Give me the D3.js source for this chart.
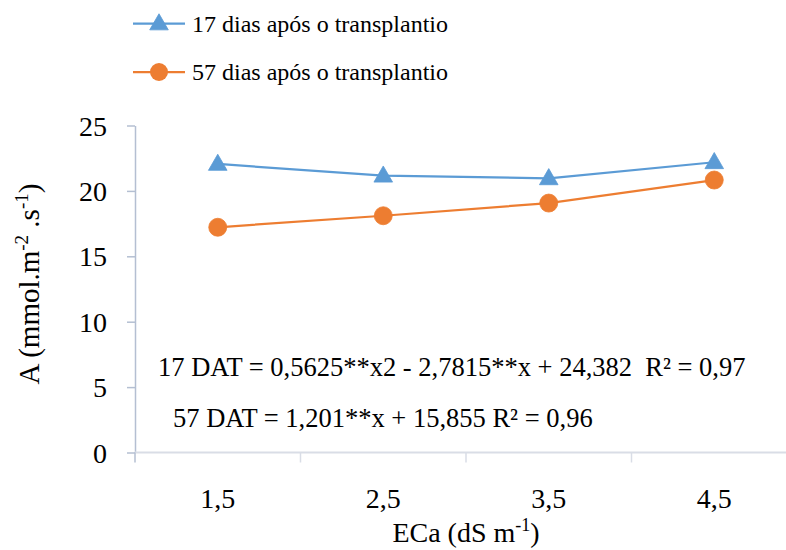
<!DOCTYPE html>
<html>
<head>
<meta charset="utf-8">
<script src="https://cdn.jsdelivr.net/npm/d3@7"></script>
<style>
  html, body { margin: 0; padding: 0; background: #fff; }
</style>
</head>
<body>
<svg id="chart" width="786" height="550"></svg>
<script>
// Electrical conductivity of irrigation water (ECa, dS m-1)
const categories = ["1,5", "2,5", "3,5", "4,5"];
// Net photosynthesis A at 17 and 57 days after transplanting
const dat17 = [22.06, 21.16, 20.96, 22.19];
const dat57 = [17.22, 18.10, 19.07, 20.83];
const yTicks = [0, 5, 10, 15, 20, 25];
const seriesNames = ["17 dias após o transplantio", "57 dias após o transplantio"];
const equations = [
  "17 DAT = 0,5625**x2 - 2,7815**x + 24,382  R² = 0,97",
  "57 DAT = 1,201**x + 15,855 R² = 0,96"
];

const FONT = "Liberation Serif";
const svg = d3.select("#chart");
const plot = { left: 135, right: 797, top: 125.5, bottom: 452.5 };
const blue = "#5B9BD5", orange = "#ED7D31";

const x = d3.scaleBand().domain(categories).range([plot.left, plot.right]).padding(0);
const y = d3.scaleLinear().domain([0, 25]).range([plot.bottom, plot.top]);

// Y axis
const yAxis = svg.append("g")
  .attr("transform", `translate(${plot.left},0)`)
  .call(d3.axisLeft(y).tickValues(yTicks).tickSize(8).tickPadding(20).tickSizeOuter(0))
  .attr("font-family", FONT).attr("font-size", 28);
yAxis.select(".domain").attr("stroke", "#b4bfd2").attr("stroke-width", 1.5);
yAxis.selectAll(".tick line").attr("stroke", "#b4bfd2").attr("stroke-width", 1.5);
yAxis.selectAll(".tick text").attr("fill", "#000").attr("dy", "0.34em");

// X axis: baseline plus ticks on the category boundaries
const xAxisG = svg.append("g").attr("transform", `translate(0,${plot.bottom})`)
  .attr("font-family", FONT);
xAxisG.append("line")
  .attr("x1", plot.left).attr("x2", plot.right)
  .attr("stroke", "#d9dde6").attr("stroke-width", 2);
const bounds = categories.map(c => x(c)).concat([plot.right]);
xAxisG.selectAll("line.tk").data(bounds).join("line").attr("class", "tk")
  .attr("x1", d => d).attr("x2", d => d).attr("y1", 0).attr("y2", 10)
  .attr("stroke", (d, i) => i === 0 ? "#b4bfd2" : "#d9dde6").attr("stroke-width", 1.5);
xAxisG.selectAll("text").data(categories).join("text")
  .attr("x", d => x(d) + x.bandwidth() / 2).attr("y", 55)
  .attr("text-anchor", "middle").attr("font-size", 28)
  .text(d => d);

// Axis titles
const yt = svg.append("text")
  .attr("transform", `translate(39,${(plot.top + plot.bottom) / 2 - 5}) rotate(-90)`)
  .attr("text-anchor", "middle").attr("font-size", 29).attr("font-family", FONT);
yt.append("tspan").text("A (mmol.m");
yt.append("tspan").attr("font-size", 19).attr("dy", -11).text("-2");
yt.append("tspan").attr("dy", 11).text(" .s");
yt.append("tspan").attr("font-size", 19).attr("dy", -11).text("-1");
yt.append("tspan").attr("dy", 11).text(")");

const xt = svg.append("text")
  .attr("x", (plot.left + plot.right) / 2).attr("y", 542)
  .attr("text-anchor", "middle").attr("font-size", 28).attr("font-family", FONT);
xt.append("tspan").text("ECa (dS m");
xt.append("tspan").attr("font-size", 18).attr("dy", -11).text("-1");
xt.append("tspan").attr("dy", 11).text(")");

// Series lines and markers
const cx = (d, i) => x(categories[i]) + x.bandwidth() / 2;
const line = d3.line().x(cx).y(d => y(d));
svg.append("path").datum(dat17).attr("d", line)
  .attr("fill", "none").attr("stroke", blue).attr("stroke-width", 2.25);
svg.append("path").datum(dat57).attr("d", line)
  .attr("fill", "none").attr("stroke", orange).attr("stroke-width", 2.25);

const tri = d3.symbol().type(d3.symbolTriangle).size(150);
svg.selectAll("path.m17").data(dat17).join("path").attr("class", "m17")
  .attr("d", tri).attr("transform", (d, i) => `translate(${cx(d, i)},${y(d) + 1})`)
  .attr("fill", blue).attr("stroke", blue).attr("stroke-width", 0.8);
svg.selectAll("circle.m57").data(dat57).join("circle").attr("class", "m57")
  .attr("cx", cx).attr("cy", d => y(d)).attr("r", 9)
  .attr("fill", orange).attr("stroke", orange).attr("stroke-width", 0.8);

// Regression equations
svg.append("text").attr("x", 158).attr("y", 376).attr("font-size", 26.5).attr("font-family", FONT)
  .style("white-space", "pre").text(equations[0]);
svg.append("text").attr("x", 173).attr("y", 427).attr("font-size", 26.5).attr("font-family", FONT)
  .style("white-space", "pre").text(equations[1]);

// Legend
const legY = [23.5, 72];
const lg = svg.append("g").attr("font-family", FONT);
seriesNames.forEach((name, i) => {
  const col = i === 0 ? blue : orange;
  lg.append("line").attr("x1", 133).attr("x2", 185).attr("y1", legY[i]).attr("y2", legY[i])
    .attr("stroke", col).attr("stroke-width", 2.25);
  if (i === 0) {
    lg.append("path").attr("d", tri).attr("transform", `translate(159,${legY[i] + 1})`)
      .attr("fill", col).attr("stroke", col).attr("stroke-width", 0.8);
  } else {
    lg.append("circle").attr("cx", 159).attr("cy", legY[i]).attr("r", 9).attr("fill", col);
  }
  lg.append("text").attr("x", 192).attr("y", legY[i] + 8).attr("font-size", 24).text(name);
});
</script>
</body>
</html>
